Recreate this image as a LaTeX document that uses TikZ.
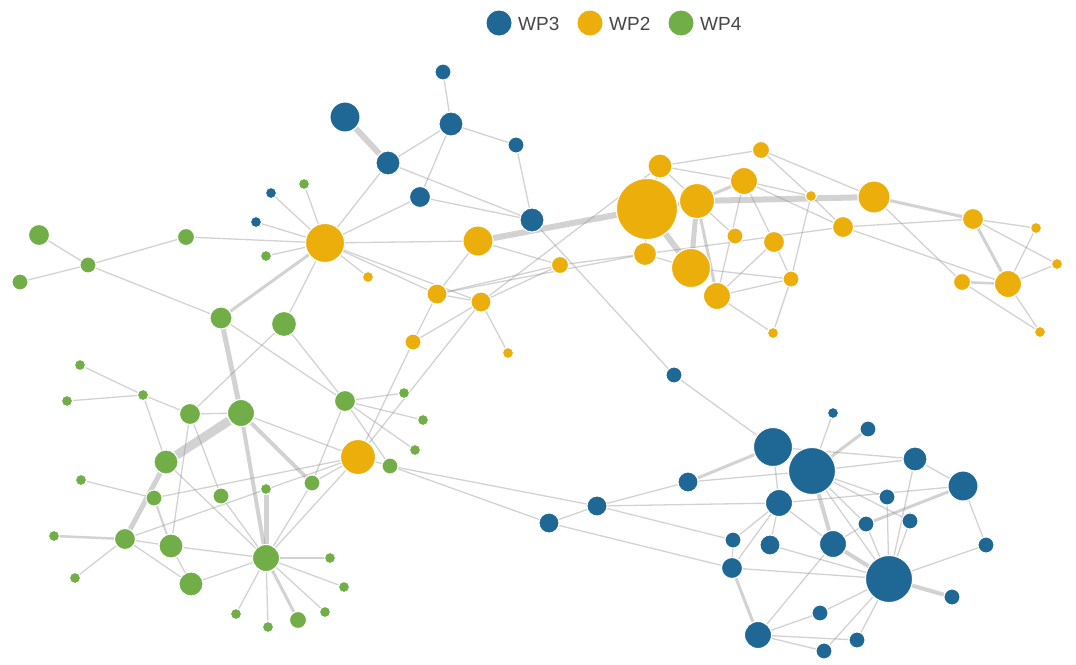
\documentclass[tikz,border=0pt]{standalone}
\usepackage{fontspec}
\setmainfont{Liberation Sans}
\pgfdeclarelayer{bgl}
\pgfdeclarelayer{edges}
\pgfsetlayers{bgl,edges,main}
\definecolor{wpb}{RGB}{31,104,150}
\definecolor{wpo}{RGB}{236,174,11}
\definecolor{wpg}{RGB}{114,174,72}
\definecolor{edgecol}{RGB}{150,150,150}
\definecolor{legtext}{RGB}{70,70,70}
\tikzset{
  nd/.style={circle, draw=white, line width=1pt, inner sep=0pt},
  nb/.style={nd, fill=wpb},
  no/.style={nd, fill=wpo},
  ng/.style={nd, fill=wpg},
  e/.style={draw=edgecol, opacity=0.42, line width=1.3pt},
  legc/.style={circle, inner sep=0pt, minimum size=25pt},
  legt/.style={anchor=west, inner sep=0pt, text=legtext, font=\fontsize{19}{19}\selectfont}
}
\newcommand\nodeBl[4]{\node[nb,minimum size=#4pt] (#1) at (#2,#3) {};}
\newcommand\nodeOr[4]{\node[no,minimum size=#4pt] (#1) at (#2,#3) {};}
\newcommand\nodeGr[4]{\node[ng,minimum size=#4pt] (#1) at (#2,#3) {};}
\begin{document}
\begin{tikzpicture}[x=1pt,y=-1pt]
\begin{pgfonlayer}{bgl}
\fill[white] (0,0) rectangle (1076,664);
\end{pgfonlayer}
\useasboundingbox (0,0) rectangle (1076,664);
% legend
\node[legc, fill=wpb] (L3) at (499,23) {};
\node[legt] (T3) at (518,24) {WP3};
\node[legc, fill=wpo] (L2) at (590,23) {};
\node[legt] (T2) at (609,24) {WP2};
\node[legc, fill=wpg] (L4) at (681,23) {};
\node[legt] (T4) at (700,24) {WP4};
% blue nodes
\nodeBl{B1}{443}{72}{16}
\nodeBl{B2}{345}{117}{30}
\nodeBl{B3}{451}{124}{24}
\nodeBl{B4}{516}{145}{16}
\nodeBl{B5}{388}{163}{24}
\nodeBl{B6}{420}{197}{21}
\nodeBl{B7}{532}{220}{24}
\nodeBl{B8}{271}{193}{11}
\nodeBl{B9}{256}{222}{11}
\nodeBl{BA}{674}{375}{16}
\nodeBl{BB}{773}{447}{39}
\nodeBl{BC}{812}{471}{47}
\nodeBl{BD}{833}{413}{11}
\nodeBl{BE}{868}{429}{16}
\nodeBl{BF}{915}{459}{24}
\nodeBl{BG}{963}{486}{30}
\nodeBl{BH}{688}{482}{20}
\nodeBl{BI}{597}{506}{20}
\nodeBl{BJ}{549}{523}{20}
\nodeBl{BK}{779}{503}{27}
\nodeBl{BL}{887}{497}{16}
\nodeBl{BM}{866}{524}{16}
\nodeBl{BN}{910}{521}{16}
\nodeBl{BO}{733}{540}{16}
\nodeBl{BP}{770}{545}{20}
\nodeBl{BQ}{833}{544}{27}
\nodeBl{BR}{986}{545}{16}
\nodeBl{BS}{732}{568}{21}
\nodeBl{BT}{889}{579}{47}
\nodeBl{BU}{952}{597}{16}
\nodeBl{BV}{820}{613}{16}
\nodeBl{BW}{758}{635}{27}
\nodeBl{BX}{857}{640}{16}
\nodeBl{BY}{824}{651}{16}
% orange nodes
\nodeOr{O1}{325}{243}{39}
\nodeOr{O2}{478}{241}{30}
\nodeOr{O3}{560}{265}{17}
\nodeOr{O4}{368}{277}{11}
\nodeOr{O5}{437}{294}{20}
\nodeOr{O6}{481}{302}{20}
\nodeOr{O7}{413}{342}{16}
\nodeOr{O8}{508}{353}{11}
\nodeOr{O9}{358}{457}{35}
\nodeOr{OA}{647}{209}{61}
\nodeOr{OB}{660}{166}{24}
\nodeOr{OC}{697}{201}{35}
\nodeOr{OD}{744}{181}{27}
\nodeOr{OE}{761}{150}{17}
\nodeOr{OF}{811}{196}{11}
\nodeOr{OG}{874}{197}{32}
\nodeOr{OH}{843}{227}{21}
\nodeOr{OI}{735}{236}{16}
\nodeOr{OJ}{774}{242}{21}
\nodeOr{OK}{645}{254}{23}
\nodeOr{OL}{691}{268}{39}
\nodeOr{OM}{717}{296}{27}
\nodeOr{ON}{791}{279}{16}
\nodeOr{OO}{773}{333}{11}
\nodeOr{OP}{973}{219}{21}
\nodeOr{OQ}{1036}{228}{11}
\nodeOr{OR}{1057}{264}{11}
\nodeOr{OS}{1008}{284}{27}
\nodeOr{OT}{962}{282}{17}
\nodeOr{OU}{1040}{332}{11}
% green nodes
\nodeGr{G1}{304}{184}{11}
\nodeGr{G2}{266}{256}{11}
\nodeGr{G3}{186}{237}{17}
\nodeGr{G4}{39}{235}{21}
\nodeGr{G5}{88}{265}{16}
\nodeGr{G6}{20}{282}{16}
\nodeGr{G7}{221}{318}{22}
\nodeGr{G8}{284}{324}{25}
\nodeGr{G9}{80}{365}{11}
\nodeGr{G10}{67}{401}{11}
\nodeGr{G11}{143}{395}{11}
\nodeGr{G12}{190}{414}{21}
\nodeGr{G13}{241}{413}{27}
\nodeGr{G14}{345}{401}{21}
\nodeGr{G15}{404}{393}{11}
\nodeGr{G16}{423}{420}{11}
\nodeGr{G17}{415}{450}{11}
\nodeGr{G18}{390}{466}{16}
\nodeGr{G19}{166}{462}{24}
\nodeGr{G20}{81}{480}{11}
\nodeGr{G21}{154}{498}{16}
\nodeGr{G22}{221}{496}{16}
\nodeGr{G23}{266}{489}{11}
\nodeGr{G24}{312}{483}{16}
\nodeGr{G25}{54}{536}{11}
\nodeGr{G26}{125}{539}{21}
\nodeGr{G27}{171}{546}{24}
\nodeGr{G28}{75}{578}{11}
\nodeGr{G29}{191}{584}{24}
\nodeGr{G30}{266}{558}{27}
\nodeGr{G31}{330}{558}{11}
\nodeGr{G32}{344}{587}{11}
\nodeGr{G33}{236}{614}{11}
\nodeGr{G34}{268}{627}{11}
\nodeGr{G35}{298}{620}{17}
\nodeGr{G36}{325}{612}{11}
% edges
\begin{pgfonlayer}{edges}
\foreach \a/\b in {G4/G5,G5/G6,G5/G3,G3/O1,G5/G7,
  O1/G1,O1/G2,O1/B8,O1/B9,O1/B5,O1/B6,O1/O2,O1/O4,O1/O5,O1/O6,O1/G8,
  B1/B3,B5/B3,B3/B4,B3/B6,B5/B7,B6/B7,B4/B7,
  B7/BA,O2/O5,O2/O3,O5/O6,O5/O7,O5/O3,O5/OK,O6/O7,O6/O8,O6/O9,O6/OB,O6/O3,O9/O7,O3/OK,
  OA/OB,OA/OK,OB/OE,OB/OD,OB/OC,OE/OF,OE/OG,OD/OF,OD/OJ,OD/OM,OD/OH,OC/OI,
  OK/OH,OK/OL,OL/ON,OM/ON,OM/OJ,OJ/ON,OF/ON,ON/OO,OM/OO,OF/OH,OG/OT,OH/OP,OH/OS,
  OP/OQ,OP/OR,OT/OU,OS/OU,OS/OR,OS/OQ,
  G7/G14,G8/G14,G8/G12,G9/G11,G10/G11,G11/G12,G11/G19,G12/G13,G12/G27,G12/G22,G22/G30,
  G13/O9,G14/G15,G14/G16,G14/G17,G14/G24,G14/G18,O9/G18,O9/G24,O9/G21,O9/G26,O9/G30,
  G24/G30,G19/G30,G20/G21,G26/G27,G26/G29,G26/G28,G27/G29,G27/G30,G29/G30,
  G30/G31,G30/G32,G30/G33,G30/G34,G30/G36,G18/BI,G18/BJ,
  BA/BB,BH/BC,BH/BI,BI/BJ,BI/BK,BI/BO,BJ/BS,BB/BK,BK/BO,BK/BS,BK/BP,BK/BQ,BC/BD,
  BB/BF,BC/BF,BF/BG,BF/BT,BC/BL,BK/BG,BQ/BM,BC/BN,BC/BT,BC/BM,BM/BT,BL/BT,BN/BT,
  BP/BT,BS/BT,BQ/BW,BT/BR,BR/BG,BT/BV,BT/BX,BT/BY,BW/BV,BW/BX,BW/BY,BO/BS}
  \draw[e] (\a) -- (\b);
\foreach \a/\b/\w in {O1/G7/3,B2/B5/6,O2/OA/6,OA/OC/4,OA/OL/6,OC/OL/5,OC/OM/3,OC/OD/3,
  OC/OG/6,OG/OP/3,OP/OS/3,OT/OS/2.5,G7/G13/5,G13/G19/9,G13/G30/4,G13/G24/4,G23/G30/5,
  G19/G26/5,G21/G27/2,G25/G26/2.5,G30/G35/3,BB/BH/3,BC/BE/3,BM/BG/3,BC/BQ/4,BQ/BT/4,
  BT/BU/4,BS/BW/3}
  \draw[e, line width=\w pt] (\a) -- (\b);
\end{pgfonlayer}
\end{tikzpicture}
\end{document}
